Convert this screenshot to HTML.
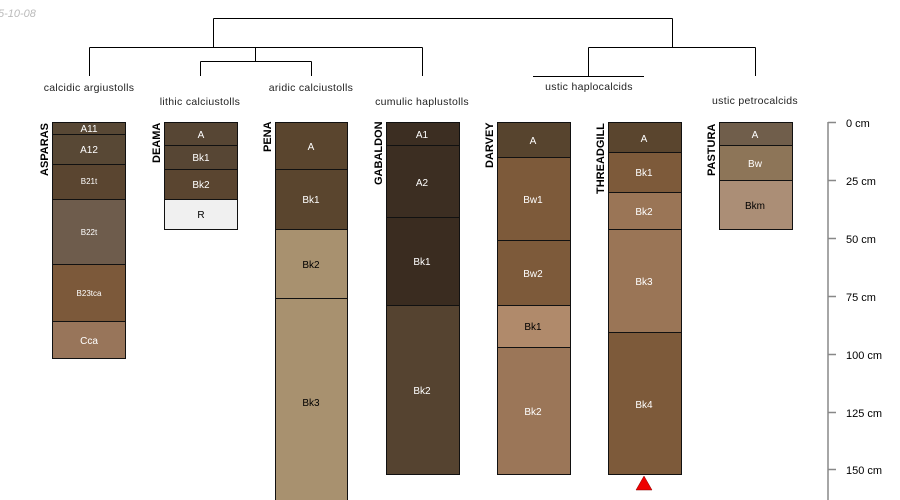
<!DOCTYPE html>
<html><head><meta charset="utf-8"><style>
html,body{margin:0;padding:0;background:#fff;}
svg{display:block;font-family:"Liberation Sans",sans-serif;}
</style></head><body>
<svg width="900" height="500" viewBox="0 0 900 500" xmlns="http://www.w3.org/2000/svg">
<text x="-2" y="17" font-size="11" font-style="italic" fill="#bbb">5-10-08</text>
<g stroke="#000" stroke-width="1" fill="none">
<path d="M213.5 18.5H672.5M213.5 18.5V47.5M89.5 47.5H422.5M89.5 47.5V76M422.5 47.5V76M255.5 47.5V61.5M200.5 61.5H311.5M200.5 61.5V76M311.5 61.5V76M672.5 18.5V47.5M588.5 47.5H755.5M755.5 47.5V76M588.5 47.5V76.5M533 76.5H644"/>
</g>
<g font-size="10.5" fill="#222" text-anchor="middle" letter-spacing="0.3">
<text x="89" y="91">calcidic argiustolls</text>
<text x="200" y="105">lithic calciustolls</text>
<text x="311" y="91">aridic calciustolls</text>
<text x="422" y="105">cumulic haplustolls</text>
<text x="589" y="90">ustic haplocalcids</text>
<text x="755" y="104">ustic petrocalcids</text>
</g>
<g stroke="#111" stroke-width="1">
<rect x="52.5" y="122.5" width="73" height="12" fill="#584835"/>
<rect x="52.5" y="134.5" width="73" height="30" fill="#584835"/>
<rect x="52.5" y="164.5" width="73" height="35" fill="#5a4530"/>
<rect x="52.5" y="199.5" width="73" height="65" fill="#6e5c4c"/>
<rect x="52.5" y="264.5" width="73" height="57" fill="#7c593a"/>
<rect x="52.5" y="321.5" width="73" height="37" fill="#98755a"/>
<rect x="164.5" y="122.5" width="73" height="23" fill="#574634"/>
<rect x="164.5" y="145.5" width="73" height="24" fill="#574634"/>
<rect x="164.5" y="169.5" width="73" height="30" fill="#5a4530"/>
<rect x="164.5" y="199.5" width="73" height="30" fill="#f0f0f0"/>
<rect x="275.5" y="122.5" width="72" height="47" fill="#5a452e"/>
<rect x="275.5" y="169.5" width="72" height="60" fill="#5a452e"/>
<rect x="275.5" y="229.5" width="72" height="69" fill="#a8916f"/>
<rect x="275.5" y="298.5" width="72" height="210" fill="#a8916f"/>
<rect x="386.5" y="122.5" width="73" height="23" fill="#3c2e22"/>
<rect x="386.5" y="145.5" width="73" height="72" fill="#3c2e22"/>
<rect x="386.5" y="217.5" width="73" height="88" fill="#3a2c20"/>
<rect x="386.5" y="305.5" width="73" height="169" fill="#554330"/>
<rect x="497.5" y="122.5" width="73" height="35" fill="#57442e"/>
<rect x="497.5" y="157.5" width="73" height="83" fill="#7d5a3a"/>
<rect x="497.5" y="240.5" width="73" height="65" fill="#7d5a3a"/>
<rect x="497.5" y="305.5" width="73" height="42" fill="#b08a6b"/>
<rect x="497.5" y="347.5" width="73" height="127" fill="#9b7658"/>
<rect x="608.5" y="122.5" width="73" height="30" fill="#5a452e"/>
<rect x="608.5" y="152.5" width="73" height="40" fill="#7d5a3a"/>
<rect x="608.5" y="192.5" width="73" height="37" fill="#9a7556"/>
<rect x="608.5" y="229.5" width="73" height="103" fill="#9a7556"/>
<rect x="608.5" y="332.5" width="73" height="142" fill="#7d5a3a"/>
<rect x="719.5" y="122.5" width="73" height="23" fill="#705e4b"/>
<rect x="719.5" y="145.5" width="73" height="35" fill="#8d7558"/>
<rect x="719.5" y="180.5" width="73" height="49" fill="#ab8e76"/>
</g>
<polygon points="644,476 652,490 636,490" fill="#e00" stroke="#800" stroke-width="0.5"/>
<g font-size="11" font-weight="bold" fill="#000">
<text transform="translate(48,176) rotate(-90)">ASPARAS</text>
<text transform="translate(160,163) rotate(-90)">DEAMA</text>
<text transform="translate(271,152) rotate(-90)">PENA</text>
<text transform="translate(382,185) rotate(-90)">GABALDON</text>
<text transform="translate(493,168) rotate(-90)">DARVEY</text>
<text transform="translate(604,194) rotate(-90)">THREADGILL</text>
<text transform="translate(715,176) rotate(-90)">PASTURA</text>
</g>
<g font-size="10" fill="#fff" text-anchor="middle">
<text x="89" y="132">A11</text>
<text x="89" y="153">A12</text>
<text x="89" y="184" font-size="8">B21t</text>
<text x="89" y="235" font-size="8">B22t</text>
<text x="89" y="296" font-size="8">B23tca</text>
<text x="89" y="344">Cca</text>
<text x="201" y="138">A</text>
<text x="201" y="161">Bk1</text>
<text x="201" y="188">Bk2</text>
<text x="201" y="218" fill="#000">R</text>
<text x="311" y="150">A</text>
<text x="311" y="203">Bk1</text>
<text x="311" y="268" fill="#000">Bk2</text>
<text x="311" y="406" fill="#000">Bk3</text>
<text x="422" y="138">A1</text>
<text x="422" y="186">A2</text>
<text x="422" y="265">Bk1</text>
<text x="422" y="394">Bk2</text>
<text x="533" y="144">A</text>
<text x="533" y="203">Bw1</text>
<text x="533" y="277">Bw2</text>
<text x="533" y="330" fill="#000">Bk1</text>
<text x="533" y="415">Bk2</text>
<text x="644" y="142">A</text>
<text x="644" y="176">Bk1</text>
<text x="644" y="215">Bk2</text>
<text x="644" y="285">Bk3</text>
<text x="644" y="408">Bk4</text>
<text x="755" y="138">A</text>
<text x="755" y="167">Bw</text>
<text x="755" y="209" fill="#000">Bkm</text>
</g>
<g stroke="#888" stroke-width="1.5" fill="none">
<path d="M828 122V500M828 122.5H836M828 180.5H836M828 238.5H836M828 296.5H836M828 354.5H836M828 412.5H836M828 469.5H836"/>
</g>
<g font-size="11" fill="#000">
<text x="846" y="127">0 cm</text>
<text x="846" y="185">25 cm</text>
<text x="846" y="243">50 cm</text>
<text x="846" y="301">75 cm</text>
<text x="846" y="359">100 cm</text>
<text x="846" y="417">125 cm</text>
<text x="846" y="474">150 cm</text>
</g>
</svg>
</body></html>
